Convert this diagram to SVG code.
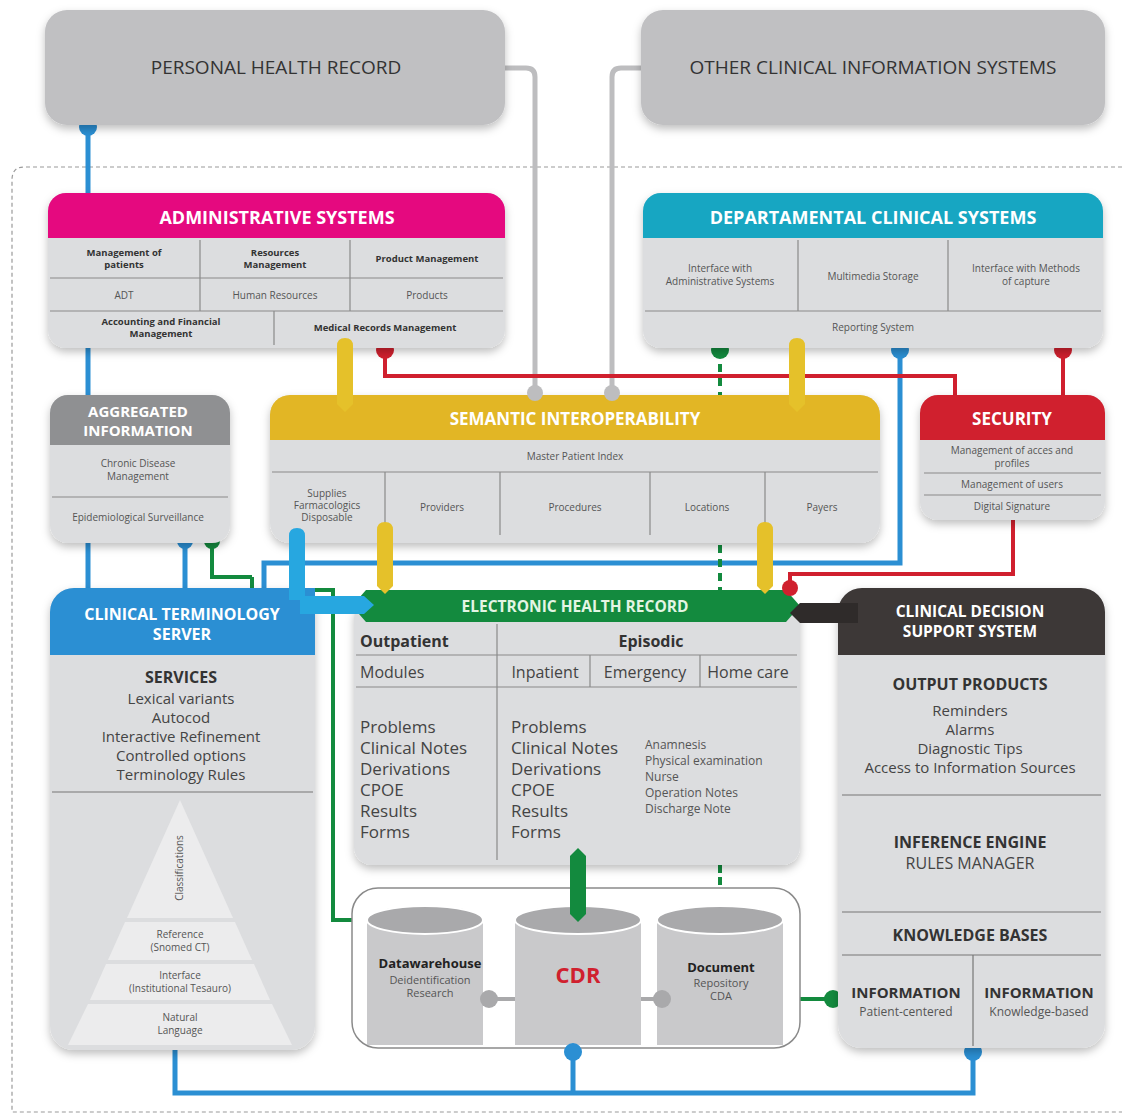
<svg xmlns="http://www.w3.org/2000/svg" width="1122" height="1116" viewBox="0 0 1122 1116">
<defs>
<filter id="sh" x="-10%" y="-10%" width="120%" height="125%"><feDropShadow dx="0" dy="4" stdDeviation="4" flood-color="#000" flood-opacity="0.25"/></filter>
<style>
text{font-family:"Open Sans","DejaVu Sans",sans-serif;text-anchor:middle;}
.hd{fill:#fff;font-weight:bold;font-size:18px;}
.top{fill:#333;font-size:19px;}
.sb{fill:#333;font-weight:bold;font-size:9.5px;}
.sr{fill:#555;font-size:10px;}
.lg{fill:#444;font-size:15px;}
.lgb{fill:#333;font-weight:bold;font-size:16px;}
.body{fill:#dcdddf;}
.ln{stroke:#8a8a8a;stroke-width:1.2;fill:none;}
.blue{stroke:#2b8fd3;stroke-width:5;fill:none;}
.red{stroke:#d0202e;stroke-width:4;fill:none;}
.grn{stroke:#138a3e;stroke-width:4;fill:none;}
.gry{stroke:#bdbdbf;stroke-width:5;fill:none;}
</style>
</defs>
<rect width="1122" height="1116" fill="#fff"/>
<path d="M1122,167 L24,167 Q12,167 12,180 L12,1112 L1122,1112" fill="none" stroke="#9a9a9a" stroke-width="1.2" stroke-dasharray="4 3"/>

<g id="connectors">
<path class="gry" d="M500,68 L526,68 Q535,68 535,77 L535,393"/>
<path class="gry" d="M645,68 L621,68 Q612,68 612,77 L612,393"/>
<path class="blue" d="M88,128 L88,196"/>
<circle cx="88" cy="127" r="9" fill="#2b8fd3"/>
<path class="blue" d="M88,345 L88,398"/>
<path class="blue" d="M88,540 L88,592"/>
<path class="blue" d="M185,541 L185,592"/>
<circle cx="185" cy="541" r="8" fill="#2b8fd3"/>
<path class="grn" d="M212,541 L212,577 L252,577"/>
<circle cx="212" cy="541" r="8" fill="#138a3e"/>
<path class="grn" d="M252,577 L252,590 L333,590 L333,920 L356,920"/>
<path class="blue" d="M900,350 L900,563 L264,563 L264,592"/>
<circle cx="900" cy="350" r="9" fill="#2b8fd3"/>
<path class="red" d="M385,350 L385,376 L955,376 L955,398"/>
<circle cx="385" cy="350" r="9" fill="#d0202e"/>
<path class="red" d="M1063,350 L1063,398"/>
<circle cx="1063" cy="350" r="9" fill="#d0202e"/>
<path class="red" d="M1013,515 L1013,574 L790,574 L790,590"/>
<path class="grn" d="M720,350 L720,398" stroke-dasharray="8 6"/>
<circle cx="720" cy="350" r="9" fill="#138a3e"/>
<path class="grn" d="M720,545 L720,592" stroke-dasharray="8 6"/>
<path class="grn" d="M720,865 L720,889" stroke-dasharray="8 4"/>
<path class="grn" d="M800,999 L833,999"/>
<circle cx="833" cy="999" r="9" fill="#138a3e"/>
<path class="blue" d="M175,1048 L175,1093 L973,1093 L973,1052"/>
<path class="blue" d="M573,1093 L573,1052"/>
<circle cx="973" cy="1052" r="9" fill="#2b8fd3"/>
</g>

<g id="phr">
<rect x="45" y="10" width="460" height="115" rx="22" fill="#c0c0c2" filter="url(#sh)"/>
<text class="top" x="276" y="74">PERSONAL HEALTH RECORD</text>
</g>
<g id="ocis">
<rect x="641" y="10" width="464" height="115" rx="22" fill="#c0c0c2" filter="url(#sh)"/>
<text class="top" x="873" y="74">OTHER CLINICAL INFORMATION SYSTEMS</text>
</g>

<g id="admin">
<rect x="48" y="193" width="457" height="155" rx="18" class="body" filter="url(#sh)"/>
<path d="M48,238 L48,211 A18,18 0 0 1 66,193 L487,193 A18,18 0 0 1 505,211 L505,238 Z" fill="#e5097f"/>
<text class="hd" x="277" y="224">ADMINISTRATIVE SYSTEMS</text>
<path class="ln" d="M50,278 L503,278 M50,311 L503,311 M200,240 L200,311 M350,240 L350,311 M274,311 L274,345"/>
<text class="sb" x="124" y="256">Management of</text><text class="sb" x="124" y="268">patients</text>
<text class="sb" x="275" y="256">Resources</text><text class="sb" x="275" y="268">Management</text>
<text class="sb" x="427" y="262">Product Management</text>
<text class="sr" x="124" y="299">ADT</text>
<text class="sr" x="275" y="299">Human Resources</text>
<text class="sr" x="427" y="299">Products</text>
<text class="sb" x="161" y="325">Accounting and Financial</text><text class="sb" x="161" y="337">Management</text>
<text class="sb" x="385" y="331">Medical Records Management</text>
</g>

<g id="departmental">
<rect x="643" y="193" width="460" height="155" rx="18" class="body" filter="url(#sh)"/>
<path d="M643,238 L643,211 A18,18 0 0 1 661,193 L1085,193 A18,18 0 0 1 1103,211 L1103,238 Z" fill="#17a6c2"/>
<text class="hd" x="873" y="224">DEPARTAMENTAL CLINICAL SYSTEMS</text>
<path class="ln" d="M645,311 L1101,311 M798,240 L798,311 M948,240 L948,311"/>
<text class="sr" x="720" y="272">Interface with</text><text class="sr" x="720" y="285">Administrative Systems</text>
<text class="sr" x="873" y="280">Multimedia Storage</text>
<text class="sr" x="1026" y="272">Interface with Methods</text><text class="sr" x="1026" y="285">of capture</text>
<text class="sr" x="873" y="331">Reporting System</text>
</g>

<g id="aggregated">
<rect x="50" y="395" width="180" height="148" rx="18" class="body" filter="url(#sh)"/>
<path d="M50,445 L50,413 A18,18 0 0 1 68,395 L212,395 A18,18 0 0 1 230,413 L230,445 Z" fill="#8f9092"/>
<text class="hd" x="138" y="417" style="font-size:15px">AGGREGATED</text>
<text class="hd" x="138" y="436" style="font-size:15px">INFORMATION</text>
<text class="sr" x="138" y="467">Chronic Disease</text><text class="sr" x="138" y="480">Management</text>
<path class="ln" d="M52,497 L228,497"/>
<text class="sr" x="138" y="521">Epidemiological Surveillance</text>
</g>

<g id="semantic">
<rect x="270" y="395" width="610" height="148" rx="20" class="body" filter="url(#sh)"/>
<path d="M270,440 L270,415 A20,20 0 0 1 290,395 L860,395 A20,20 0 0 1 880,415 L880,440 Z" fill="#e2b625"/>
<text class="hd" x="575" y="425" style="font-size:17px">SEMANTIC INTEROPERABILITY</text>
<text class="sr" x="575" y="460">Master Patient Index</text>
<path class="ln" d="M272,472 L878,472 M385,472 L385,535 M500,472 L500,535 M650,472 L650,535 M765,472 L765,535"/>
<text class="sr" x="327" y="497">Supplies</text><text class="sr" x="327" y="509">Farmacologics</text><text class="sr" x="327" y="521">Disposable</text>
<text class="sr" x="442" y="511">Providers</text>
<text class="sr" x="575" y="511">Procedures</text>
<text class="sr" x="707" y="511">Locations</text>
<text class="sr" x="822" y="511">Payers</text>
</g>

<g id="security">
<rect x="920" y="395" width="185" height="125" rx="18" class="body" filter="url(#sh)"/>
<path d="M920,440 L920,413 A18,18 0 0 1 938,395 L1087,395 A18,18 0 0 1 1105,413 L1105,440 Z" fill="#d0202e"/>
<text class="hd" x="1012" y="425" style="font-size:17px">SECURITY</text>
<text class="sr" x="1012" y="454">Management of acces and</text><text class="sr" x="1012" y="467">profiles</text>
<path class="ln" d="M924,473 L1101,473 M924,495 L1101,495"/>
<text class="sr" x="1012" y="488">Management of users</text>
<text class="sr" x="1012" y="510">Digital Signature</text>
</g>

<g id="terminology">
<rect x="50" y="588" width="265" height="462" rx="24" class="body" filter="url(#sh)"/>
<path d="M50,655 L50,612 A24,24 0 0 1 74,588 L315,588 L315,655 Z" fill="#2b8fd3"/>
<text class="hd" x="182" y="620" style="font-size:16px">CLINICAL TERMINOLOGY</text>
<text class="hd" x="182" y="640" style="font-size:16px">SERVER</text>
<text class="lgb" x="181" y="683">SERVICES</text>
<text class="lg" x="181" y="704">Lexical variants</text>
<text class="lg" x="181" y="723">Autocod</text>
<text class="lg" x="181" y="742">Interactive Refinement</text>
<text class="lg" x="181" y="761">Controlled options</text>
<text class="lg" x="181" y="780">Terminology Rules</text>
<path d="M52,792 L313,792" stroke="#777" stroke-width="1.2"/>
<path d="M180,800 L127,918 L233,918 Z" fill="#ececed"/>
<path d="M125,922 L235,922 L252,960 L108,960 Z" fill="#ececed"/>
<path d="M106,964 L254,964 L270,1000 L90,1000 Z" fill="#ececed"/>
<path d="M88,1004 L272,1004 L292,1045 L68,1045 Z" fill="#ececed"/>
<text class="sr" transform="translate(183,868) rotate(-90)" style="font-size:10px">Classifications</text>
<text class="sr" x="180" y="938" style="font-size:10px">Reference</text><text class="sr" x="180" y="951" style="font-size:10px">(Snomed CT)</text>
<text class="sr" x="180" y="979" style="font-size:10px">Interface</text><text class="sr" x="180" y="992" style="font-size:10px">(Institutional Tesauro)</text>
<text class="sr" x="180" y="1021" style="font-size:10px">Natural</text><text class="sr" x="180" y="1034" style="font-size:10px">Language</text>
</g>

<g id="ehr">
<rect x="354" y="600" width="446" height="265" rx="18" class="body" filter="url(#sh)"/>
<path d="M352,606 L366,590 L786,590 L800,606 L786,622 L366,622 Z" fill="#138a3e"/>
<text class="hd" x="575" y="612" style="font-size:15.5px;fill:#e4f5e4">ELECTRONIC HEALTH RECORD</text>
<path class="ln" d="M356,655 L797,655 M356,687 L797,687 M497,624 L497,860 M590,655 L590,687 M700,655 L700,687"/>
<text class="lgb" x="360" y="647" style="text-anchor:start">Outpatient</text>
<text class="lgb" x="651" y="647">Episodic</text>
<text class="lg" x="360" y="678" style="text-anchor:start;font-size:16px">Modules</text>
<text class="lg" x="545" y="678" style="font-size:16px">Inpatient</text>
<text class="lg" x="645" y="678" style="font-size:16px">Emergency</text>
<text class="lg" x="748" y="678" style="font-size:16px">Home care</text>
<g class="lg" style="font-size:17px">
<text x="360" y="733" style="text-anchor:start">Problems</text>
<text x="360" y="754" style="text-anchor:start">Clinical Notes</text>
<text x="360" y="775" style="text-anchor:start">Derivations</text>
<text x="360" y="796" style="text-anchor:start">CPOE</text>
<text x="360" y="817" style="text-anchor:start">Results</text>
<text x="360" y="838" style="text-anchor:start">Forms</text>
<text x="511" y="733" style="text-anchor:start">Problems</text>
<text x="511" y="754" style="text-anchor:start">Clinical Notes</text>
<text x="511" y="775" style="text-anchor:start">Derivations</text>
<text x="511" y="796" style="text-anchor:start">CPOE</text>
<text x="511" y="817" style="text-anchor:start">Results</text>
<text x="511" y="838" style="text-anchor:start">Forms</text>
</g>
<g style="fill:#555;font-size:12px">
<text x="645" y="749" style="text-anchor:start">Anamnesis</text>
<text x="645" y="765" style="text-anchor:start">Physical examination</text>
<text x="645" y="781" style="text-anchor:start">Nurse</text>
<text x="645" y="797" style="text-anchor:start">Operation Notes</text>
<text x="645" y="813" style="text-anchor:start">Discharge Note</text>
</g>
</g>

<g id="cdss">
<rect x="838" y="588" width="267" height="460" rx="24" class="body" filter="url(#sh)"/>
<path d="M838,655 L838,612 A24,24 0 0 1 862,588 L1081,588 A24,24 0 0 1 1105,612 L1105,655 Z" fill="#3d3837"/>
<text class="hd" x="970" y="617" style="font-size:15.5px">CLINICAL DECISION</text>
<text class="hd" x="970" y="637" style="font-size:15.5px">SUPPORT SYSTEM</text>
<text class="lgb" x="970" y="690">OUTPUT PRODUCTS</text>
<text class="lg" x="970" y="716">Reminders</text>
<text class="lg" x="970" y="735">Alarms</text>
<text class="lg" x="970" y="754">Diagnostic Tips</text>
<text class="lg" x="970" y="773">Access to Information Sources</text>
<path d="M842,795 L1101,795 M842,912 L1101,912 M842,955 L1101,955 M973,955 L973,1046" stroke="#777" stroke-width="1.2"/>
<text class="lgb" x="970" y="848">INFERENCE ENGINE</text>
<text class="lg" x="970" y="869" style="font-size:16px">RULES MANAGER</text>
<text class="lgb" x="970" y="941">KNOWLEDGE BASES</text>
<text class="lgb" x="906" y="998" style="font-size:15px">INFORMATION</text>
<text class="sr" x="906" y="1016" style="font-size:12px">Patient-centered</text>
<text class="lgb" x="1039" y="998" style="font-size:15px">INFORMATION</text>
<text class="sr" x="1039" y="1016" style="font-size:12px">Knowledge-based</text>
</g>

<g id="repository">
<rect x="352" y="888" width="448" height="160" rx="26" fill="#fff" stroke="#8a8a8a" stroke-width="1.5"/>
</g>
<g id="datawarehouse">
<path d="M367,920 L367,1045 L483,1045 L483,920 Z" fill="#c9c9cb"/>
<ellipse cx="425" cy="920" rx="58" ry="14" fill="#a9a9ab" stroke="#fff" stroke-width="2"/>
<text x="430" y="968" style="font-weight:bold;font-size:13px;fill:#222">Datawarehouse</text>
<text class="sr" x="430" y="984" style="font-size:11px">Deidentification</text>
<text class="sr" x="430" y="997" style="font-size:11px">Research</text>
</g>
<g id="cdr">
<path d="M515,920 L515,1045 L641,1045 L641,920 Z" fill="#c9c9cb"/>
<ellipse cx="578" cy="920" rx="63" ry="14" fill="#a9a9ab" stroke="#fff" stroke-width="2"/>
<text x="578" y="983" style="font-weight:bold;font-size:22px;fill:#d0202e">CDR</text>
</g>
<g id="document">
<path d="M657,920 L657,1045 L783,1045 L783,920 Z" fill="#c9c9cb"/>
<ellipse cx="720" cy="920" rx="63" ry="14" fill="#a9a9ab" stroke="#fff" stroke-width="2"/>
<text x="721" y="972" style="font-weight:bold;font-size:13px;fill:#222">Document</text>
<text class="sr" x="721" y="987" style="font-size:11px">Repository</text>
<text class="sr" x="721" y="1000" style="font-size:11px">CDA</text>
</g>
<g id="connector-overlay">
<path d="M578,848 L570,856 L570,914 L578,922 L586,914 L586,856 Z" fill="#138a3e"/>
<path d="M489,999 L515,999 M641,999 L662,999" stroke="#a9a9ab" stroke-width="4"/>
<circle cx="489" cy="999" r="9" fill="#a9a9ab"/>
<circle cx="662" cy="999" r="9" fill="#a9a9ab"/>
<circle cx="573" cy="1052" r="9" fill="#2b8fd3"/>
<path d="M345,338 Q337,338 337,346 L337,404 L345,412 L353,404 L353,346 Q353,338 345,338 Z" fill="#e5c12a"/>
<path d="M797,338 Q789,338 789,346 L789,404 L797,412 L805,404 L805,346 Q805,338 797,338 Z" fill="#e5c12a"/>
<path d="M385,522 Q377,522 377,530 L377,586 L385,594 L393,586 L393,530 Q393,522 385,522 Z" fill="#e5c12a"/>
<path d="M765,522 Q757,522 757,530 L757,586 L765,594 L773,586 L773,530 Q773,522 765,522 Z" fill="#e5c12a"/>
<path d="M297,528 Q289,528 289,536 L289,600 L305,600 L305,536 Q305,528 297,528 Z" fill="#27a7e0"/>
<path d="M300,596 L364,596 L374,605 L364,614 L300,614 Z" fill="#27a7e0"/>
<path d="M790,613 L800,603 L858,603 L858,623 L800,623 Z" fill="#2f2b2a"/>
<circle cx="790" cy="588" r="8" fill="#d0202e"/>
<circle cx="535" cy="393" r="8" fill="#bdbdbf"/>
<circle cx="612" cy="393" r="8" fill="#bdbdbf"/>
</g>
</svg>
